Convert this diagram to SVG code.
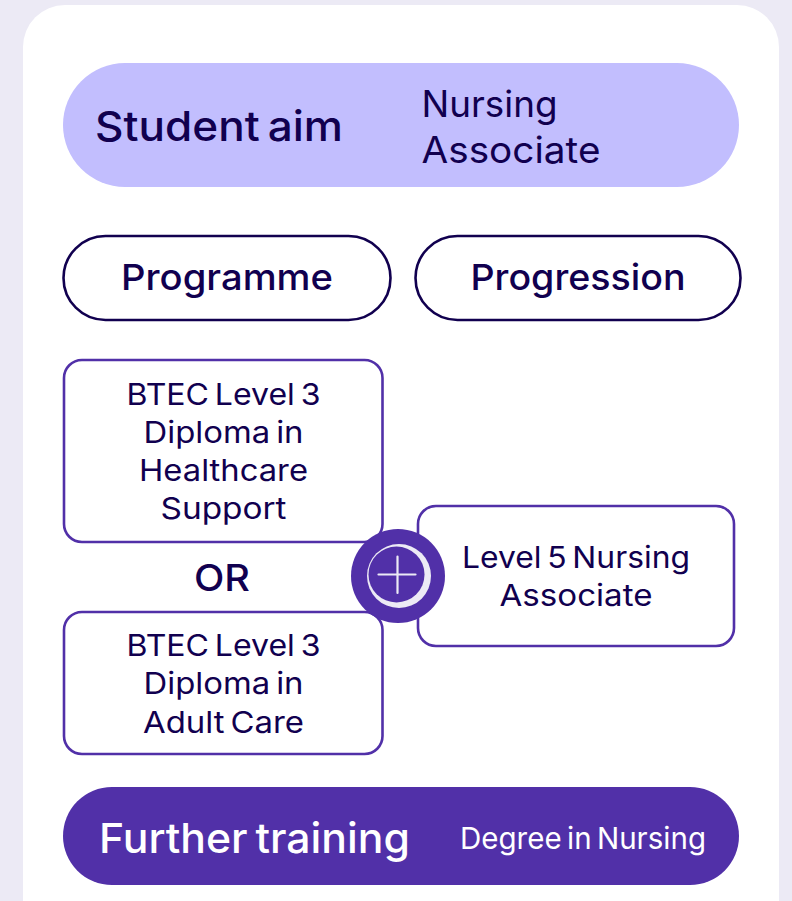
<svg xmlns="http://www.w3.org/2000/svg" width="792" height="901" viewBox="0 0 792 901">
<style>
text{font-family:Inter,"Open Sans","Liberation Sans",sans-serif;fill:#11004f}
.h{font-weight:550;font-size:41px;word-spacing:-3.5px}
.p{font-weight:550;font-size:36px}
.b{font-weight:400;font-size:30px;word-spacing:-3px}
.s{font-weight:400;font-size:37px}
.box{fill:#fff;stroke:#5130a8;stroke-width:2.6}
.pill{fill:#fff;stroke:#11004f;stroke-width:2.6}
</style>
<rect width="792" height="901" fill="#eceaf5"/>
<rect x="23" y="5" width="756" height="940" rx="42" fill="#fff"/>
<g id="aim">
<rect x="63" y="63" width="676" height="124" rx="62" fill="#c2befe"/>
<text class="h" x="95" y="141" textLength="248" lengthAdjust="spacingAndGlyphs">Student aim</text>
<text class="s" x="421.500" y="117" textLength="136" lengthAdjust="spacingAndGlyphs">Nursing</text>
<text class="s" x="421.500" y="163" textLength="179" lengthAdjust="spacingAndGlyphs">Associate</text>
</g>
<g id="programme">
<rect x="63.500" y="236" width="327" height="84" rx="42" class="pill"/>
<text class="p" x="227" y="290" text-anchor="middle" textLength="212" lengthAdjust="spacingAndGlyphs">Programme</text>
</g>
<g id="progression">
<rect x="415.500" y="236" width="325" height="84" rx="42" class="pill"/>
<text class="p" x="578" y="290" text-anchor="middle" textLength="215" lengthAdjust="spacingAndGlyphs">Progression</text>
</g>
<g id="btec-healthcare">
<rect x="64" y="360" width="318.500" height="182" rx="18" class="box"/>
<text class="b" x="223.500" y="405" text-anchor="middle" textLength="194" lengthAdjust="spacingAndGlyphs">BTEC Level 3</text>
<text class="b" x="223.500" y="443" text-anchor="middle" textLength="160" lengthAdjust="spacingAndGlyphs">Diploma in</text>
<text class="b" x="223.500" y="481" text-anchor="middle" textLength="169" lengthAdjust="spacingAndGlyphs">Healthcare</text>
<text class="b" x="223.500" y="519" text-anchor="middle" textLength="126" lengthAdjust="spacingAndGlyphs">Support</text>
</g>
<g id="or">
<text class="h" style="font-size:37px" x="222" y="591" text-anchor="middle" textLength="56" lengthAdjust="spacingAndGlyphs">OR</text>
</g>
<g id="btec-adult">
<rect x="64" y="612" width="318.500" height="142" rx="18" class="box"/>
<text class="b" x="223.500" y="656" text-anchor="middle" textLength="194" lengthAdjust="spacingAndGlyphs">BTEC Level 3</text>
<text class="b" x="223.500" y="694" text-anchor="middle" textLength="160" lengthAdjust="spacingAndGlyphs">Diploma in</text>
<text class="b" x="223.500" y="733" text-anchor="middle" textLength="161" lengthAdjust="spacingAndGlyphs">Adult Care</text>
</g>
<g id="level5">
<rect x="418" y="506" width="316" height="140" rx="18" class="box"/>
<text class="b" x="576" y="568" text-anchor="middle" textLength="228" lengthAdjust="spacingAndGlyphs">Level 5 Nursing</text>
<text class="b" x="576" y="606" text-anchor="middle" textLength="153" lengthAdjust="spacingAndGlyphs">Associate</text>
</g>
<g id="plus">
<circle cx="398" cy="576" r="47" fill="#5130a8"/>
<circle cx="399" cy="576" r="32" fill="#eceaf5"/>
<circle cx="396.500" cy="574.500" r="28" fill="#5130a8"/>
<path d="M397.500 556.500V593M378.500 574.500H415.500" fill="none" stroke="#eceaf5" stroke-width="2.200" stroke-linecap="round"/>
</g>
<g id="further">
<rect x="63" y="787" width="676" height="98" rx="49" fill="#5130a8"/>
<text class="h" style="fill:#fff" x="99" y="853" textLength="311" lengthAdjust="spacingAndGlyphs">Further training</text>
<text class="b" style="fill:#fff" x="460" y="849" textLength="246" lengthAdjust="spacingAndGlyphs">Degree in Nursing</text>
</g>
</svg>
